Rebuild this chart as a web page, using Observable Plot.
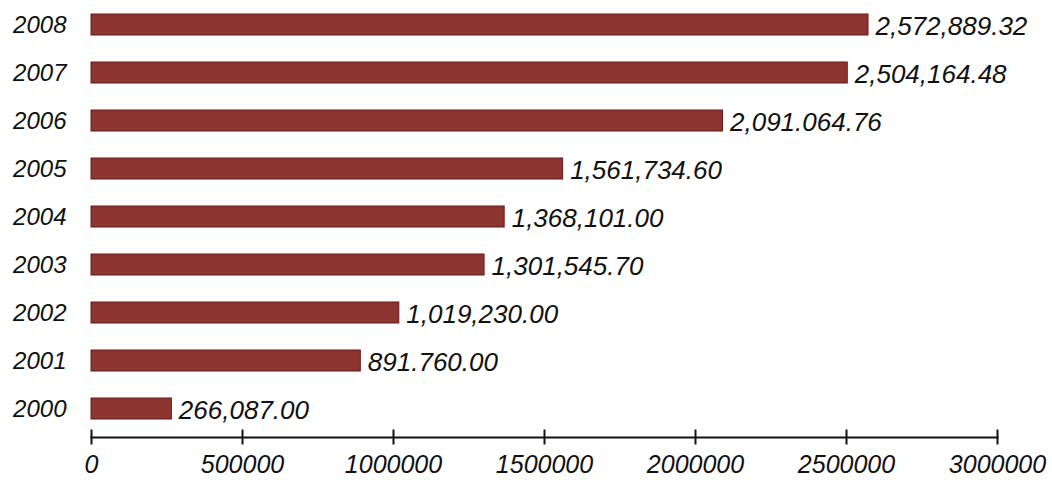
<!DOCTYPE html>
<html>
<head>
<meta charset="utf-8">
<script src="https://cdn.jsdelivr.net/npm/d3@7"></script>
<script src="https://cdn.jsdelivr.net/npm/@observablehq/plot@0.6"></script>
<style>
  html, body { margin: 0; padding: 0; background: #ffffff; }
  #chart { width: 1052px; height: 480px; }
</style>
</head>
<body>
<div id="chart"></div>
<script>
// Data
const years = ["2008", "2007", "2006", "2005", "2004", "2003", "2002", "2001", "2000"];
const values = [2572889.32, 2504164.48, 2091064.76, 1561734.60, 1368101.00, 1301545.70, 1019230.00, 891760.00, 266087.00];
const valueLabels = ["2,572,889.32", "2,504,164.48", "2,091.064.76", "1,561,734.60", "1,368,101.00", "1,301,545.70", "1,019,230.00", "891.760.00", "266,087.00"];
const xTicks = [0, 500000, 1000000, 1500000, 2000000, 2500000, 3000000];

const data = years.map((y, i) => ({year: y, value: values[i], label: valueLabels[i]}));

const chart = Plot.plot({
  width: 1052,
  height: 480,
  marginLeft: 91,
  marginRight: 55,
  marginTop: 14,
  marginBottom: 43,
  style: {
    fontFamily: "'Liberation Sans', Arial, sans-serif",
    fontSize: "24px",
    fontStyle: "italic",
    color: "#111",
    background: "#ffffff"
  },
  x: {domain: [0, 3000000], label: null},
  y: {domain: years, range: [14, 420], paddingInner: 0.56, paddingOuter: 0, label: null},
  marks: [
    Plot.barX(data, {x: "value", y: "year", fill: "#8c3430", stroke: "#5e1c1a", strokeWidth: 1}),
    Plot.text(data, {x: "value", y: "year", text: "label", textAnchor: "start", dx: 7, dy: 2, fontSize: 26, fill: "#111"}),
    Plot.frame({anchor: "bottom", stroke: "#111", strokeWidth: 2}),
    Plot.axisX({ticks: xTicks, tickSize: 15, dy: -7.5, tickFormat: () => "", stroke: "#111", strokeWidth: 2, label: null}),
    Plot.axisX({ticks: xTicks, tickSize: 0, tickPadding: 18, tickFormat: d => String(d), fontSize: 25, fill: "#111", label: null}),
    Plot.axisY({tickSize: 0, tickPadding: 25, fontSize: 24, fill: "#111", label: null})
  ]
});

document.getElementById("chart").appendChild(chart);
</script>
</body>
</html>
